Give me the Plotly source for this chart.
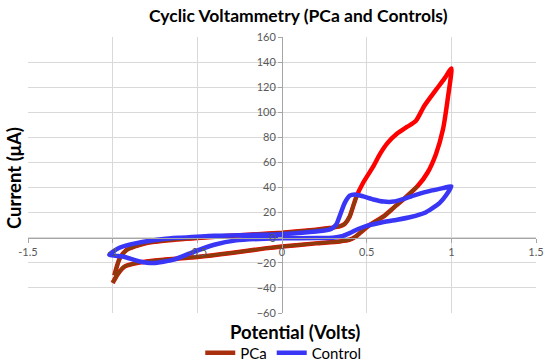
import plotly.graph_objects as go

# PCa: forward (lower) branch, left to right
pca_fwd_x = [-1.0, -0.97, -0.93, -0.85, -0.8, -0.7, -0.5, -0.3, -0.1, 0.0, 0.2, 0.34, 0.40, 0.43, 0.46, 0.52, 0.6, 0.66, 0.72, 0.8, 0.86, 0.91, 0.95, 0.98, 1.0]
pca_fwd_y = [-36, -29, -23, -20, -19, -17.5, -15.4, -12.2, -8.5, -7, -4.5, -3, -1.6, 0.5, 3.7, 10.4, 17, 24, 31, 41, 52, 67, 86, 112, 135]
# PCa: reverse (upper) branch, right to left
pca_rev_x = [0.96, 0.91, 0.84, 0.79, 0.74, 0.68, 0.62, 0.58, 0.54, 0.48, 0.44, 0.42, 0.40, 0.37, 0.34, 0.28, 0.2, 0.0, -0.2, -0.5, -0.7, -0.8, -0.87, -0.92, -0.96, -0.99]
pca_rev_y = [127, 118, 105, 93, 88.5, 83, 75, 67, 57, 44, 33, 25, 17, 11, 9, 7.7, 6.4, 4, 2.4, -0.3, -2.5, -4.2, -7, -10, -17, -30]

# Control: lower branch left to right, then upper branch right to left
ctl_fwd_x = [-1.02, -0.94, -0.84, -0.76, -0.64, -0.54, -0.4, -0.27, -0.1, 0.0, 0.2, 0.30, 0.36, 0.40, 0.45, 0.50, 0.58, 0.68, 0.76, 0.84, 0.93, 0.97, 1.0]
ctl_fwd_y = [-13.5, -15, -18.9, -20.2, -17.5, -12.2, -5.6, -2.1, -0.8, -0.5, -0.2, 0, 1.5, 3.7, 7, 9.5, 12, 14.3, 16.5, 19.7, 27.6, 34, 41]
ctl_rev_x = [0.95, 0.88, 0.8, 0.72, 0.66, 0.6, 0.54, 0.48, 0.43, 0.40, 0.37, 0.34, 0.32, 0.29, 0.24, 0.1, 0.0, -0.2, -0.4, -0.6, -0.7, -0.86, -0.96, -1.02]
ctl_rev_y = [39.5, 37.5, 34.5, 31, 28.8, 28.8, 30.5, 33, 34.5, 33.5, 27.6, 17, 10.4, 7, 5.5, 3.8, 2.8, 2.2, 1.6, 0, -1, -4.3, -8, -13.5]

x_ticks = [-1.5, -1, -0.5, 0, 0.5, 1, 1.5]
x_tick_text = ["-1.5", "-1", "-0.5", "0", "0.5", "1", "1.5"]
y_ticks = [-60, -40, -20, 0, 20, 40, 60, 80, 100, 120, 140, 160]

RED = "#ff0000"
BROWN = "#8c3b0c"
BLUE = "#3a36f5"

pca_x = pca_fwd_x + pca_rev_x
pca_y = pca_fwd_y + pca_rev_y
ctl_x = ctl_fwd_x + ctl_rev_x
ctl_y = ctl_fwd_y + ctl_rev_y

# brown overlay segments: lower branch up to ~0.8, upper branch from ~0.44 leftwards
n_low = pca_fwd_x.index(0.8) + 1
i_up = pca_rev_x.index(0.44)
brown_x = pca_fwd_x[:n_low] + [None] + pca_rev_x[i_up:]
brown_y = pca_fwd_y[:n_low] + [None] + pca_rev_y[i_up:]

fig = go.Figure()
fig.add_trace(go.Scatter(x=pca_x, y=pca_y, mode="lines", name="PCa", showlegend=False,
                         line=dict(color=RED, width=4.5, shape="spline", smoothing=0.6)))
fig.add_trace(go.Scatter(x=brown_x, y=brown_y, mode="lines", name="PCa", showlegend=False,
                         line=dict(color=BROWN, width=3.5, shape="spline", smoothing=0.6)))
fig.add_trace(go.Scatter(x=[None], y=[None], mode="lines", name="PCa",
                         line=dict(color="#a8300e", width=4.5)))
fig.add_trace(go.Scatter(x=ctl_x, y=ctl_y, mode="lines", name="Control",
                         line=dict(color=BLUE, width=4.5, shape="spline", smoothing=0.6)))

tickfont = dict(family="Lato, Open Sans, sans-serif", size=11, color="#595959")

L, R, T, B = 28, 14, 37, 51
PW = 550 - L - R
PH = 364 - T - B

def px_x(px):
    return (px - L) / PW

def px_y(py):
    return (364 - B - py) / PH

fig.update_layout(
    width=550, height=364,
    margin=dict(l=L, r=R, t=T, b=B, autoexpand=False),
    paper_bgcolor="white", plot_bgcolor="white",
    font=dict(family="Lato, Open Sans, sans-serif"),
    showlegend=True,
    legend=dict(orientation="h", xref="container", yref="container",
                x=0.515, xanchor="center", y=1 - 353 / 364, yanchor="middle",
                font=dict(size=15, color="#000000"), itemwidth=30, tracegroupgap=0,
                bgcolor="rgba(0,0,0,0)"),
    xaxis=dict(range=[-1.5, 1.5], tickvals=x_ticks, ticktext=x_tick_text,
               showgrid=True, gridcolor="#d9d9d9", gridwidth=1, automargin=False,
               zeroline=False, showline=True, linecolor="#a6a6a6", linewidth=1,
               anchor="free", position=60 / 220,
               ticks="outside", ticklen=4, tickcolor="#a6a6a6",
               tickfont=tickfont, fixedrange=True),
    yaxis=dict(range=[-60, 160], tickvals=y_ticks,
               showgrid=True, gridcolor="#d9d9d9", gridwidth=1, automargin=False,
               zeroline=False, showline=True, linecolor="#a6a6a6", linewidth=1,
               anchor="free", position=0.5,
               ticks="outside", ticklen=4, tickcolor="#a6a6a6",
               tickfont=tickfont, fixedrange=True),
    annotations=[
        dict(text="<b>Cyclic Voltammetry (PCa and Controls)</b>", xref="paper", yref="paper",
             x=px_x(298), y=px_y(15), xanchor="center", yanchor="middle", showarrow=False,
             font=dict(size=17.5, color="#000000")),
        dict(text="<b>Current (μA)</b>", xref="paper", yref="paper",
             x=px_x(14), y=px_y(178), xanchor="center", yanchor="middle", showarrow=False,
             textangle=-90, font=dict(size=18.5, color="#000000")),
        dict(text="<b>Potential (Volts)</b>", xref="paper", yref="paper",
             x=px_x(295), y=px_y(332), xanchor="center", yanchor="middle", showarrow=False,
             font=dict(size=18.5, color="#000000")),
    ],
)

fig.write_html("out.html", config={"displayModeBar": False},
               post_script="document.body.style.margin='0px';document.body.style.overflow='hidden';")
